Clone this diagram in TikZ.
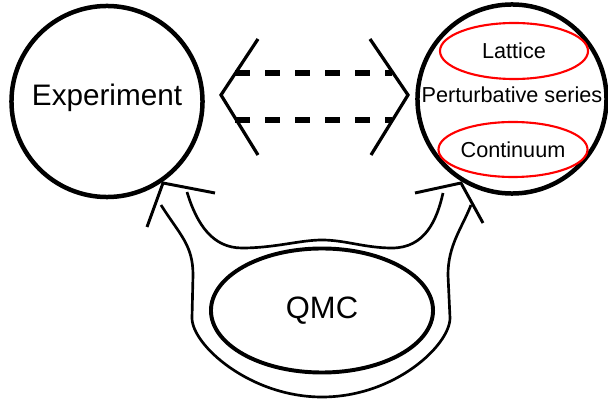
\documentclass[tikz,border=0pt]{standalone}
\usepackage{fontspec}
\setmainfont{Liberation Sans}
\usetikzlibrary{shapes.geometric}

\begin{document}
\begin{tikzpicture}[x=0.025cm,y=-0.025cm,
  bubble/.style={circle,draw,line width=3.2pt,inner sep=0pt},
  method/.style={ellipse,draw=red,line width=1.5pt,inner sep=0pt,font=\fontsize{15.4}{18}\selectfont},
  chevron/.style={line width=2.3pt},
  link/.style={line width=3.8pt,dash pattern=on 0.375cm off 0.375cm},
  tube/.style={line width=1.9pt},
  tip/.style={line width=2.1pt,line join=miter}]
  \useasboundingbox (0,0) rectangle (608,400); % 画像の外枠

  \node[bubble,minimum size=4.775cm] (exp) at (107,101.5) {}; % 実験の円
  \node[font=\fontsize{21.1}{25}\selectfont] (explabel) at (107,97.5) {Experiment};
  \node[bubble,minimum size=4.725cm] (theo) at (512,99) {}; % 理論の円
  \node[font=\fontsize{15.4}{18}\selectfont] (pert) at (512,94.5) {Perturbative series};
  \node[method,minimum width=3.7cm,minimum height=1.4cm] (lat) at (514,51) {Lattice};
  \node[method,minimum width=3.725cm,minimum height=1.375cm] (cont) at (513,149.5) {Continuum};
  \node[ellipse,draw,line width=2.8pt,inner sep=0pt,minimum width=5.55cm,minimum height=3.1cm,
    font=\fontsize{22}{26}\selectfont] (qmc) at (322,310.5) {QMC}; % QMCの楕円

  % 上側：破線の二重矢印
  \draw[chevron] (258,39) -- (221,95) -- (258,155);
  \draw[chevron] (370,39) -- (408,95) -- (371,155);
  \draw[link] (235,73) -- (392,73);
  \draw[link] (235,120) -- (392,120);

  % 下側：QMCを囲む二重線の矢印
  \draw[tube] (161,205) .. controls (180,235) and (193,245) .. (193,275) -- (192,318)
    .. controls (192,345) and (250,397) .. (322,397)
    .. controls (395,397) and (450,345) .. (450,318) -- (448,275)
    .. controls (448,245) and (462,228) .. (471,205);
  \draw[tube] (187,192) .. controls (197,225) and (213,248) .. (242,248)
    .. controls (275,248) and (300,240) .. (322,240)
    .. controls (345,240) and (365,248) .. (392,248)
    .. controls (425,248) and (437,220) .. (443,193);
  \draw[tip] (215,193) -- (163,183) -- (147,227); % 左の矢じり
  \draw[tip] (415,193) -- (461,183) -- (483,223); % 右の矢じり
\end{tikzpicture}
\end{document}
